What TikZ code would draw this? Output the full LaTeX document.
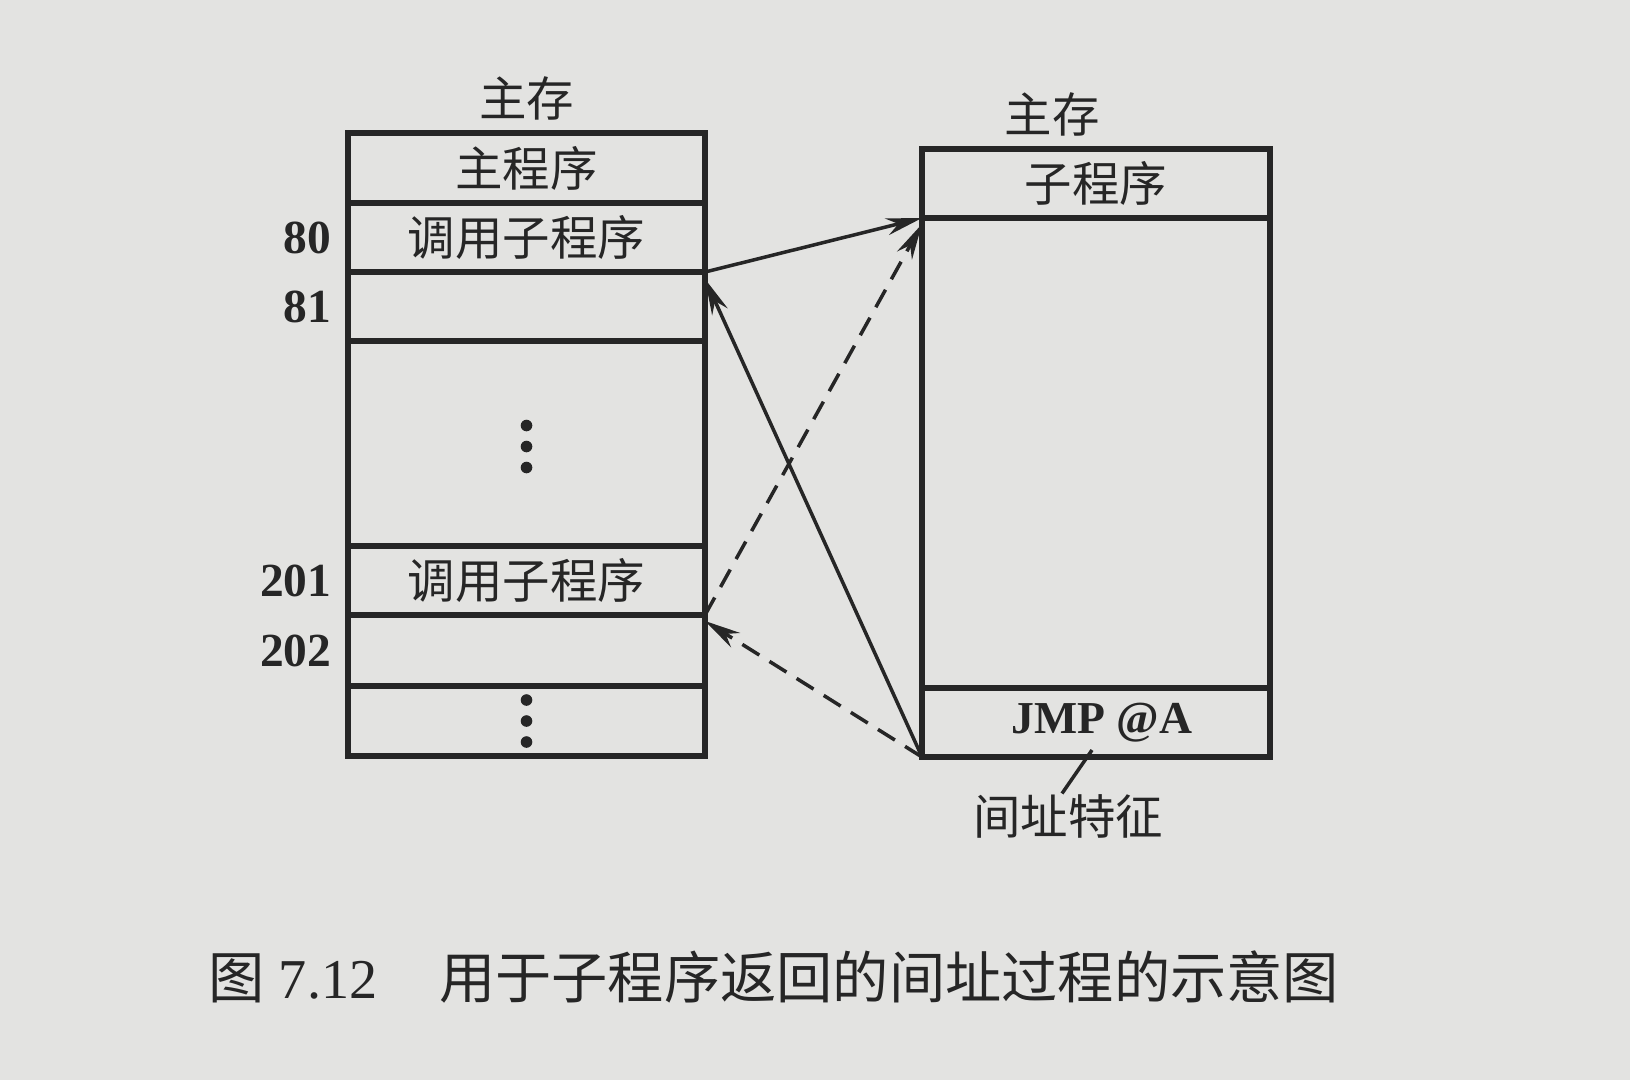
\documentclass[tikz,border=0pt]{standalone}
\usepackage{fontspec}
\setmainfont{Liberation Serif}
\newfontfamily\cjk{Noto Sans CJK SC}
\usepackage{tikz}
\usetikzlibrary{arrows.meta,positioning,calc}
\definecolor{paper}{HTML}{E3E3E1}
\definecolor{ink}{HTML}{262626}

\begin{document}
\begin{tikzpicture}[x=0.1mm,y=-0.1mm,node distance=0pt,
 cell/.style={draw=ink,line width=1.7pt,outer sep=0pt,inner sep=0pt,minimum width=35.7mm,text=ink,font=\cjk\fontsize{13.5}{16}\selectfont},
 rcell/.style={cell,minimum width=34.8mm},
 addr/.style={inner sep=0pt,text=ink,font=\bfseries\fontsize{13.5}{16}\selectfont},
 lbl/.style={inner sep=0pt,text=ink,font=\cjk\fontsize{13.5}{16}\selectfont},
 link/.style={draw=ink,line width=1pt,-{Stealth[length=3.6mm,width=1.7mm]}},
 back/.style={link,dash pattern=on 2mm off 1.2mm}]
\fill[paper] (0,0) rectangle (1630,1080);
\useasboundingbox (0,0) rectangle (1630,1080);
% main memory, calling program
\node[cell,anchor=north west,minimum height=7mm] (lmain) at (348,133) {主程序};
\node[cell,below=of lmain,minimum height=6.9mm] (l80) {调用子程序};
\node[cell,below=of l80,minimum height=6.9mm] (l81) {};
\node[cell,below=of l81,minimum height=20.5mm] (lgap) {};
\node[cell,below=of lgap,minimum height=6.9mm] (l201) {调用子程序};
\node[cell,below=of l201,minimum height=7.1mm] (l202) {};
\node[cell,below=of l202,minimum height=7mm] (lend) {};
\node[lbl,above=1.2mm of lmain] (ltitle) {主存};
\node[addr,left=1.6mm of l80] (n80) {80};
\node[addr,left=1.6mm of l81] (n81) {81};
\node[addr,left=1.6mm of l201] (n201) {201};
\node[addr,left=1.6mm of l202] (n202) {202};
\foreach \d in {-2.1,0,2.1} {
  \fill[ink] ([yshift=\d mm-0.3mm]lgap.center) circle (0.58mm);
  \fill[ink] ([yshift=\d mm]lend.center) circle (0.58mm);
}
% main memory, subroutine
\node[rcell,anchor=north west,minimum height=6.9mm] (rsub) at (922,149) {子程序};
\node[rcell,below=of rsub,minimum height=47mm] (rbody) {};
\node[rcell,below=of rbody,minimum height=6.9mm,font=\bfseries\fontsize{13}{15}\selectfont] (rjmp) {\hspace{1.2mm}JMP @A};
\node[lbl,above=1.2mm of rsub,xshift=-4.4mm] (rtitle) {主存};
\node[lbl] (tag) at (1068,816) {间址特征};
\coordinate (tagpt) at (1092,750);
\draw[ink,line width=1pt] (tagpt) -- ([xshift=-0.6mm]tag.north);
% call and return
\draw[link] (l81.north east) -- (rbody.north west);
\draw[link] (rjmp.south west) -- ([yshift=-0.7mm]l81.north east);
\draw[back] (l202.north east) -- ([yshift=-0.6mm]rbody.north west);
\draw[back] (rjmp.south west) -- ([yshift=-0.6mm]l202.north east);
% caption
\node[anchor=west,inner sep=0pt,text=ink,font=\fontsize{16}{20}\selectfont] (cap) at (208,977) {{\cjk 图}\ 7.12\hspace{1.1em}{\cjk 用于子程序返回的间址过程的示意图}};
\end{tikzpicture}
\end{document}
